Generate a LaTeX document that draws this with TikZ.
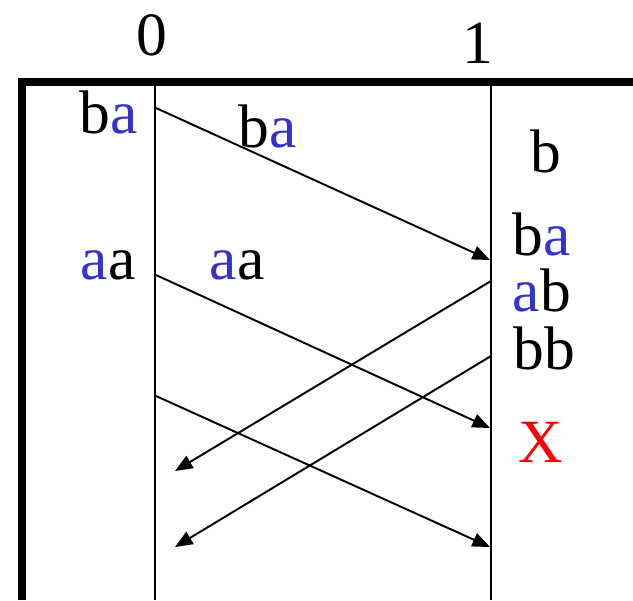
\documentclass[tikz,border=0pt]{standalone}
\usepackage{fontspec}
\setmainfont{Liberation Serif}
\usetikzlibrary{arrows.meta}
\definecolor{symblue}{RGB}{51,51,204}
\newcommand{\ba}{\textcolor{symblue}{a}}
\begin{document}
\begin{tikzpicture}[x=0.02cm,y=-0.02cm,>={Triangle[length=10pt,width=8pt]},
  every node/.style={font=\fontsize{35}{42}\selectfont,anchor=base,inner sep=0pt},
  msg/.style={->,line width=1.1pt}]
\useasboundingbox (0,0) rectangle (633,600);
% frame and the two sites
\draw[line width=4.3pt] (22,600) -- (22,82) -- (633,82);
\draw[line width=1.1pt] (155,82) -- (155,600);
\draw[line width=1.1pt] (491,82) -- (491,600);
\node (site0) at (152,55) {0};
\node (site1) at (478,63) {1};
% ends of the messages
\coordinate (s1) at (156,108);
\coordinate (t1) at (490,260);
\coordinate (s2) at (156,275);
\coordinate (t2) at (490,428);
\coordinate (s3) at (156,396);
\coordinate (t3) at (490,547);
\coordinate (r1) at (491,281);
\coordinate (u1) at (175,471);
\coordinate (r2) at (491,356);
\coordinate (u2) at (175,547);
\draw[msg] (s1) -- (t1);
\draw[msg] (s2) -- (t2);
\draw[msg] (s3) -- (t3);
\draw[msg] (r1) -- (u1);
\draw[msg] (r2) -- (u2);
% strings
\node (w0a) at (109,133) {b\ba};
\node (m1) at (268,147) {b\ba};
\node (w0b) at (108,279) {\ba a};
\node (m2) at (237,279) {\ba a};
\node (w1a) at (546,172) {b};
\node (w1b) at (542,255) {b\ba};
\node (w1c) at (542,311) {\ba b};
\node (w1d) at (544,369) {bb};
\node[text=red] (fail) at (541,462) {X};
\end{tikzpicture}
\end{document}
